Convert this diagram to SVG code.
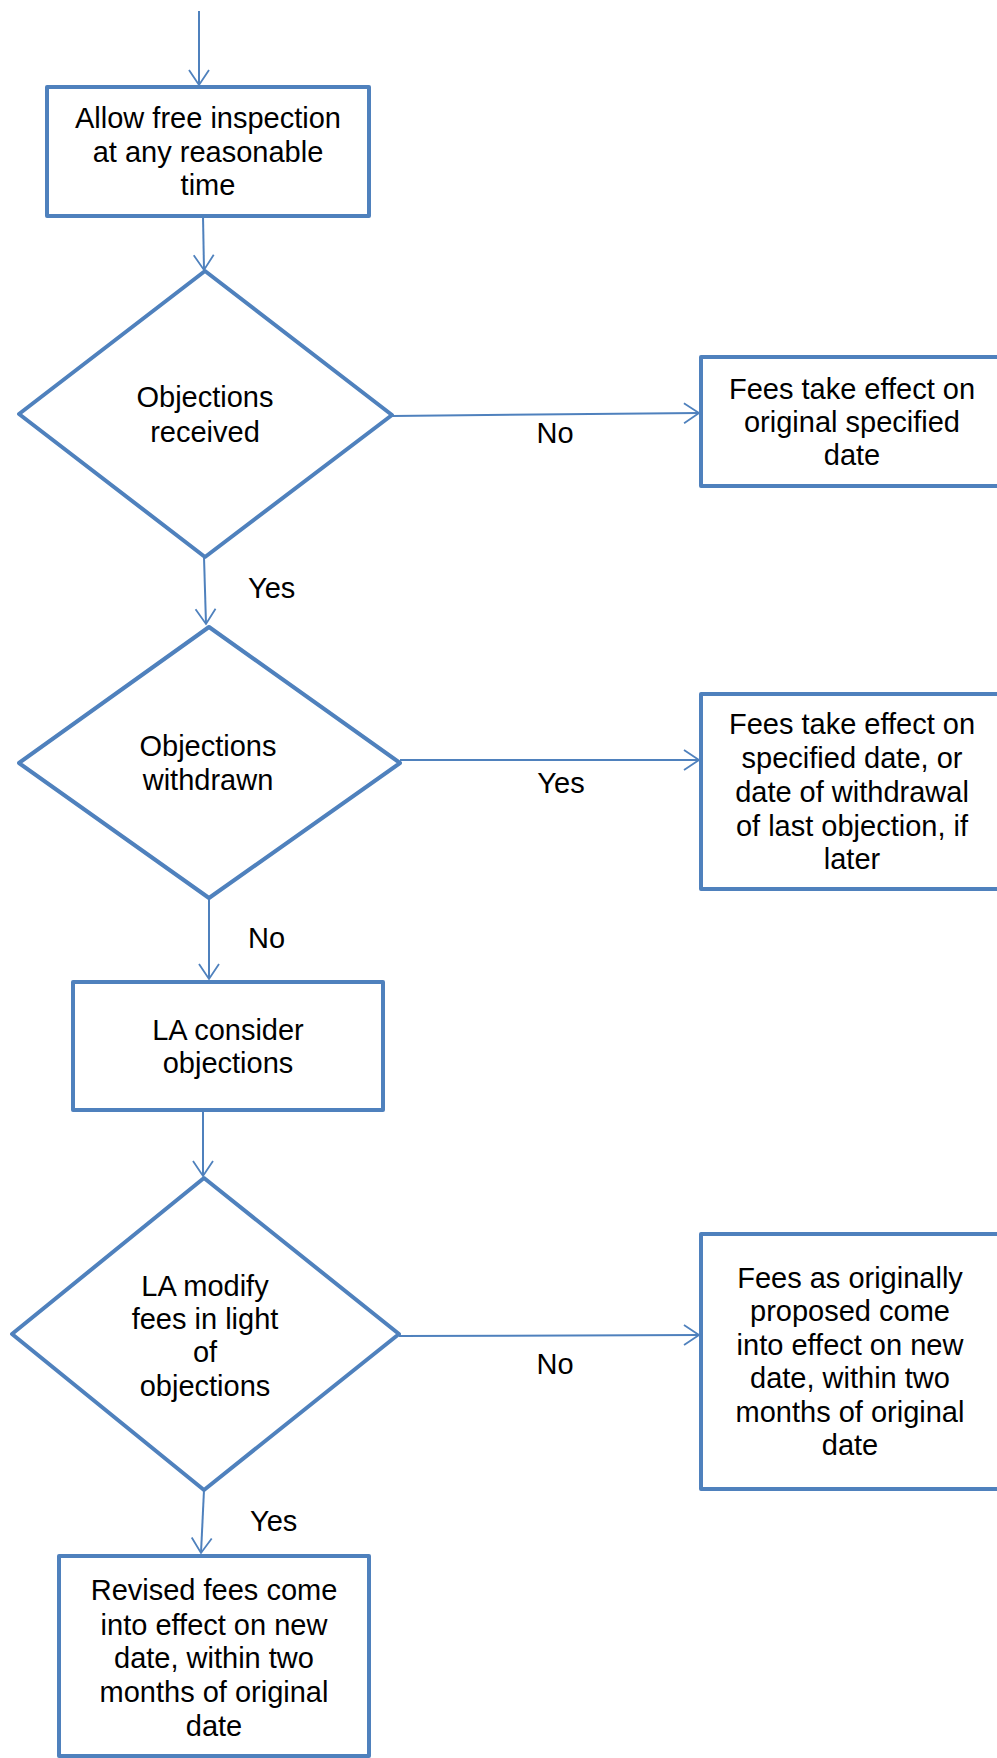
<svg xmlns="http://www.w3.org/2000/svg" width="997" height="1758" viewBox="0 0 997 1758">
<style>
.box{fill:#fff;stroke:#4F81BD;stroke-width:4;stroke-linejoin:round}
.con{fill:none;stroke:#4F81BD;stroke-width:2;marker-end:url(#arr)}
text{font-family:"Liberation Sans",Arial,sans-serif;font-size:29px;fill:#000}
.c{text-anchor:middle}
</style>
<defs>
<marker id="arr" viewBox="-18 -12 20 24" refX="0" refY="0" markerWidth="20" markerHeight="24" markerUnits="userSpaceOnUse" orient="auto">
<path d="M-15,-10 L0,0 L-15,10" fill="none" stroke="#4F81BD" stroke-width="1.8"/>
</marker>
</defs>
<rect width="997" height="1758" fill="#fff"/>
<g id="connectors">
<line class="con" x1="199" y1="11" x2="199" y2="85"/>
<line class="con" x1="203" y1="216" x2="204" y2="270"/>
<line class="con" x1="392" y1="416" x2="699" y2="413"/>
<text class="c" x="555" y="443">No</text>
<line class="con" x1="204" y1="557" x2="206" y2="624"/>
<text x="248" y="598">Yes</text>
<line class="con" x1="400" y1="760" x2="699" y2="760"/>
<text class="c" x="561" y="793">Yes</text>
<line class="con" x1="209" y1="898" x2="209" y2="979"/>
<text x="248" y="948">No</text>
<line class="con" x1="203" y1="1112" x2="203" y2="1176"/>
<line class="con" x1="399" y1="1336" x2="699" y2="1335"/>
<text class="c" x="555" y="1374">No</text>
<line class="con" x1="204" y1="1490" x2="201" y2="1553"/>
<text x="250" y="1531">Yes</text>
</g>
<g id="n1">
<rect class="box" x="47" y="87" width="322" height="129"/>
<text class="c" x="208" y="128">Allow free inspection</text>
<text class="c" x="208" y="162">at any reasonable</text>
<text class="c" x="208" y="195">time</text>
</g>
<g id="d1">
<polygon class="box" points="205,271 392,415 205,557 19,414"/>
<text class="c" x="205" y="407">Objections</text>
<text class="c" x="205" y="442">received</text>
</g>
<g id="n2">
<rect class="box" x="701" y="357" width="304" height="129"/>
<text class="c" x="852" y="399">Fees take effect on</text>
<text class="c" x="852" y="432">original specified</text>
<text class="c" x="852" y="465">date</text>
</g>
<g id="d2">
<polygon class="box" points="209,627 400,763 209,898 19,763"/>
<text class="c" x="208" y="756">Objections</text>
<text class="c" x="208" y="790">withdrawn</text>
</g>
<g id="n3">
<rect class="box" x="701" y="694" width="304" height="195"/>
<text class="c" x="852" y="734">Fees take effect on</text>
<text class="c" x="852" y="768">specified date, or</text>
<text class="c" x="852" y="802">date of withdrawal</text>
<text class="c" x="852" y="836">of last objection, if</text>
<text class="c" x="852" y="869">later</text>
</g>
<g id="n4">
<rect class="box" x="73" y="982" width="310" height="128"/>
<text class="c" x="228" y="1040">LA consider</text>
<text class="c" x="228" y="1073">objections</text>
</g>
<g id="d3">
<polygon class="box" points="204,1178 399,1334 204,1490 12,1334"/>
<text class="c" x="205" y="1296">LA modify</text>
<text class="c" x="205" y="1329">fees in light</text>
<text class="c" x="205" y="1362">of</text>
<text class="c" x="205" y="1396">objections</text>
</g>
<g id="n5">
<rect class="box" x="701" y="1234" width="304" height="255"/>
<text class="c" x="850" y="1288">Fees as originally</text>
<text class="c" x="850" y="1321">proposed come</text>
<text class="c" x="850" y="1355">into effect on new</text>
<text class="c" x="850" y="1388">date, within two</text>
<text class="c" x="850" y="1422">months of original</text>
<text class="c" x="850" y="1455">date</text>
</g>
<g id="n6">
<rect class="box" x="59" y="1556" width="310" height="200"/>
<text class="c" x="214" y="1600">Revised fees come</text>
<text class="c" x="214" y="1635">into effect on new</text>
<text class="c" x="214" y="1668">date, within two</text>
<text class="c" x="214" y="1702">months of original</text>
<text class="c" x="214" y="1736">date</text>
</g>
</svg>
